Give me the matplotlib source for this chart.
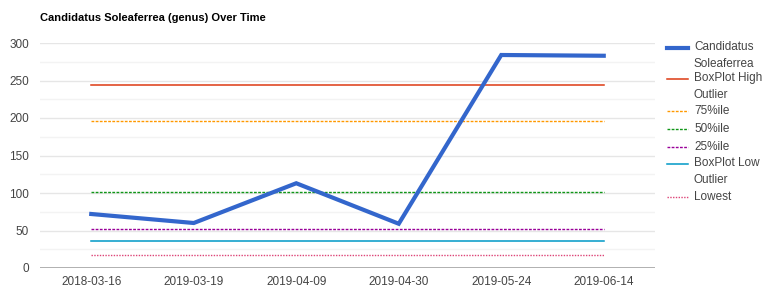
import matplotlib
matplotlib.use("Agg")
import matplotlib.pyplot as plt
from matplotlib.lines import Line2D

dates = ["2018-03-16", "2019-03-19", "2019-04-09", "2019-04-30", "2019-05-24", "2019-06-14"]
abundance = [72, 60, 113, 59, 284, 283]
high_outlier = 244
q75 = 196
q50 = 101
q25 = 52
low_outlier = 36
lowest = 17

series_labels = ["Candidatus\nSoleaferrea", "BoxPlot High\nOutlier", "75%ile", "50%ile",
                 "25%ile", "BoxPlot Low\nOutlier", "Lowest"]
title = "Candidatus Soleaferrea (genus) Over Time"
yticks = [0, 50, 100, 150, 200, 250, 300]

plt.rcParams['font.family'] = ['Liberation Sans', 'DejaVu Sans']

fig = plt.figure(figsize=(7.75, 2.96), dpi=100)
ax = fig.add_axes([40/775, 1-268/296, 615/775, 225/296])

x = list(range(len(dates)))
ref_values = [high_outlier, q75, q50, q25, low_outlier, lowest]
styles = [
    ("#3366CC", "-", 3.0),
    ("#DC3912", "-", 1.1),
    ("#FF9900", (0, (2, 1)), 1.0),
    ("#109618", (0, (2, 1)), 1.0),
    ("#990099", (0, (2, 1)), 1.0),
    ("#0099C6", "-", 1.1),
    ("#DD4477", (0, (1, 1)), 1.0),
]

# grid
for v in range(25, 301, 25):
    col = "#e6e6e6" if v % 50 == 0 else "#f3f3f3"
    ax.axhline(v, color=col, lw=1.0, zorder=0)
ax.axhline(0, color="#aaaaaa", lw=1.3, zorder=1)

col, ls, lw = styles[0]
ax.plot(x, abundance, color=col, ls=ls, lw=lw, zorder=5, solid_joinstyle="miter")
for val, (col, ls, lw) in zip(ref_values, styles[1:]):
    ax.plot([x[0], x[-1]], [val, val], color=col, ls=ls, lw=lw, zorder=3)

ax.set_xlim(-0.5, len(dates) - 0.5)
ax.set_ylim(0, 300)
ax.set_yticks(yticks)
ax.set_xticks(x)
ax.set_xticklabels(dates)
for s in ax.spines.values():
    s.set_visible(False)
ax.tick_params(length=0, labelsize=8.5, colors="#444444", pad=6)
ax.tick_params(axis='y', pad=8)

fig.text(40/775, 1-18/296, title, fontsize=8, fontweight="bold", color="#000000", va="center")

# legend
legend_rows = [48, 79, 111, 129, 147, 164, 197]
for lab, row, (col, ls, lw) in zip(series_labels, legend_rows, styles):
    yf = 1 - row/296
    fig.add_artist(Line2D([667/775, 688/775], [yf, yf], color=col, ls=ls, lw=lw,
                          transform=fig.transFigure))
    fig.text(694/775, yf + 6.5/296, lab, fontsize=8.5, color="#444444", va="top",
             linespacing=1.45, transform=fig.transFigure)

fig.savefig("out.png", dpi=100)
